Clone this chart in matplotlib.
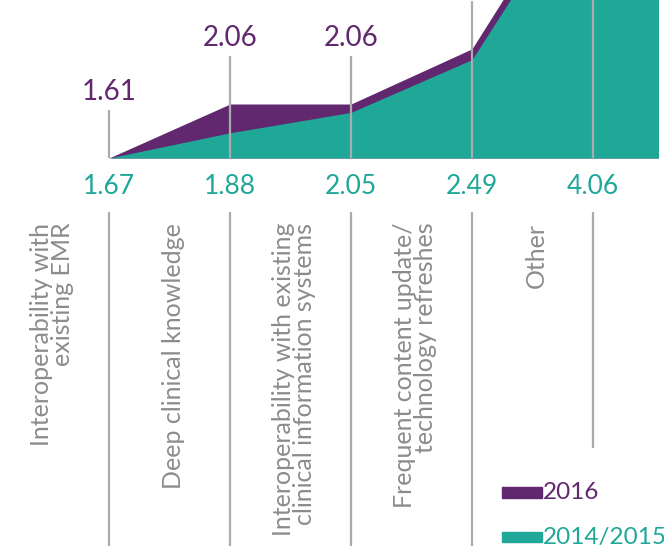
import numpy as np
import matplotlib
matplotlib.use('Agg')
import matplotlib.pyplot as plt
from matplotlib.patches import Rectangle

plt.rcParams['font.family'] = ['Lato', 'DejaVu Sans']

categories = ['Interoperability with\nexisting EMR',
              'Deep clinical knowledge',
              'Interoperability with existing\nclinical information systems',
              'Frequent content update/\ntechnology refreshes',
              'Other']
# 2014/2015 and 2016 scores; the last entry is the next column, cropped off
vals_1415 = [1.67, 1.88, 2.05, 2.49, 4.06, 4.40]
vals_2016 = [1.61, 2.06, 2.06, 2.52, 4.12, 4.50]
labels_1415 = ['1.67', '1.88', '2.05', '2.49', '4.06']
labels_2016 = ['1.61', '2.06', '2.06', '', '']

purple = '#62286F'
teal = '#1FA898'
grey_line = '#ABABAB'
grey_text = '#8C8C8C'

x = np.arange(len(vals_1415))
rise_1415 = np.array(vals_1415) - vals_1415[0]
rise_2016 = np.array(vals_2016) - vals_2016[0]

W, H = 664, 550
fig = plt.figure(figsize=(W / 100, H / 100), dpi=100)
ax = fig.add_axes([0, 0, 658 / W, 1])
xs = 121.0  # pixels per column
ys = 120.0  # pixels per unit
ax.set_xlim(-109 / xs, (658 - 109) / xs)
ax.set_ylim(-(H - 158) / ys, 158 / ys)
ax.axis('off')

ax.fill_between(x, 0, rise_2016, color=purple, lw=0, zorder=1)
ax.fill_between(x, 0, rise_1415, color=teal, lw=0, zorder=2)

n = len(categories)
for i in range(n):
    top = rise_2016[i] + 0.4
    ax.plot([i, i], [0, top], color=grey_line, lw=1.6, zorder=3,
            solid_capstyle='butt')
    if labels_2016[i]:
        ax.text(i, top + 0.04, labels_2016[i], color=purple, fontsize=20,
                ha='center', va='bottom')
    ax.text(i, -0.24, labels_1415[i], color=teal, fontsize=19,
            ha='center', va='center')
    bottom = -2.42 if i == n - 1 else -3.23
    ax.plot([i, i], [-0.45, bottom], color=grey_line, lw=1.6,
            solid_capstyle='butt', clip_on=False)
    ax.text(i - 0.47, -0.54, categories[i], rotation=90, color=grey_text,
            fontsize=18, ha='center', va='top',
            multialignment='right', linespacing=0.92)

# legend
ax.add_patch(Rectangle((3.25, -2.83), 0.33, 0.085, color=purple, clip_on=False))
ax.text(3.585, -2.79, '2016', color=purple, fontsize=17.5, ha='left', va='center')
ax.add_patch(Rectangle((3.25, -3.20), 0.33, 0.085, color=teal, clip_on=False))
ax.text(3.585, -3.16, '2014/2015', color=teal, fontsize=17.5, ha='left',
        va='center', clip_on=False)

fig.savefig('out.png', dpi=100)
